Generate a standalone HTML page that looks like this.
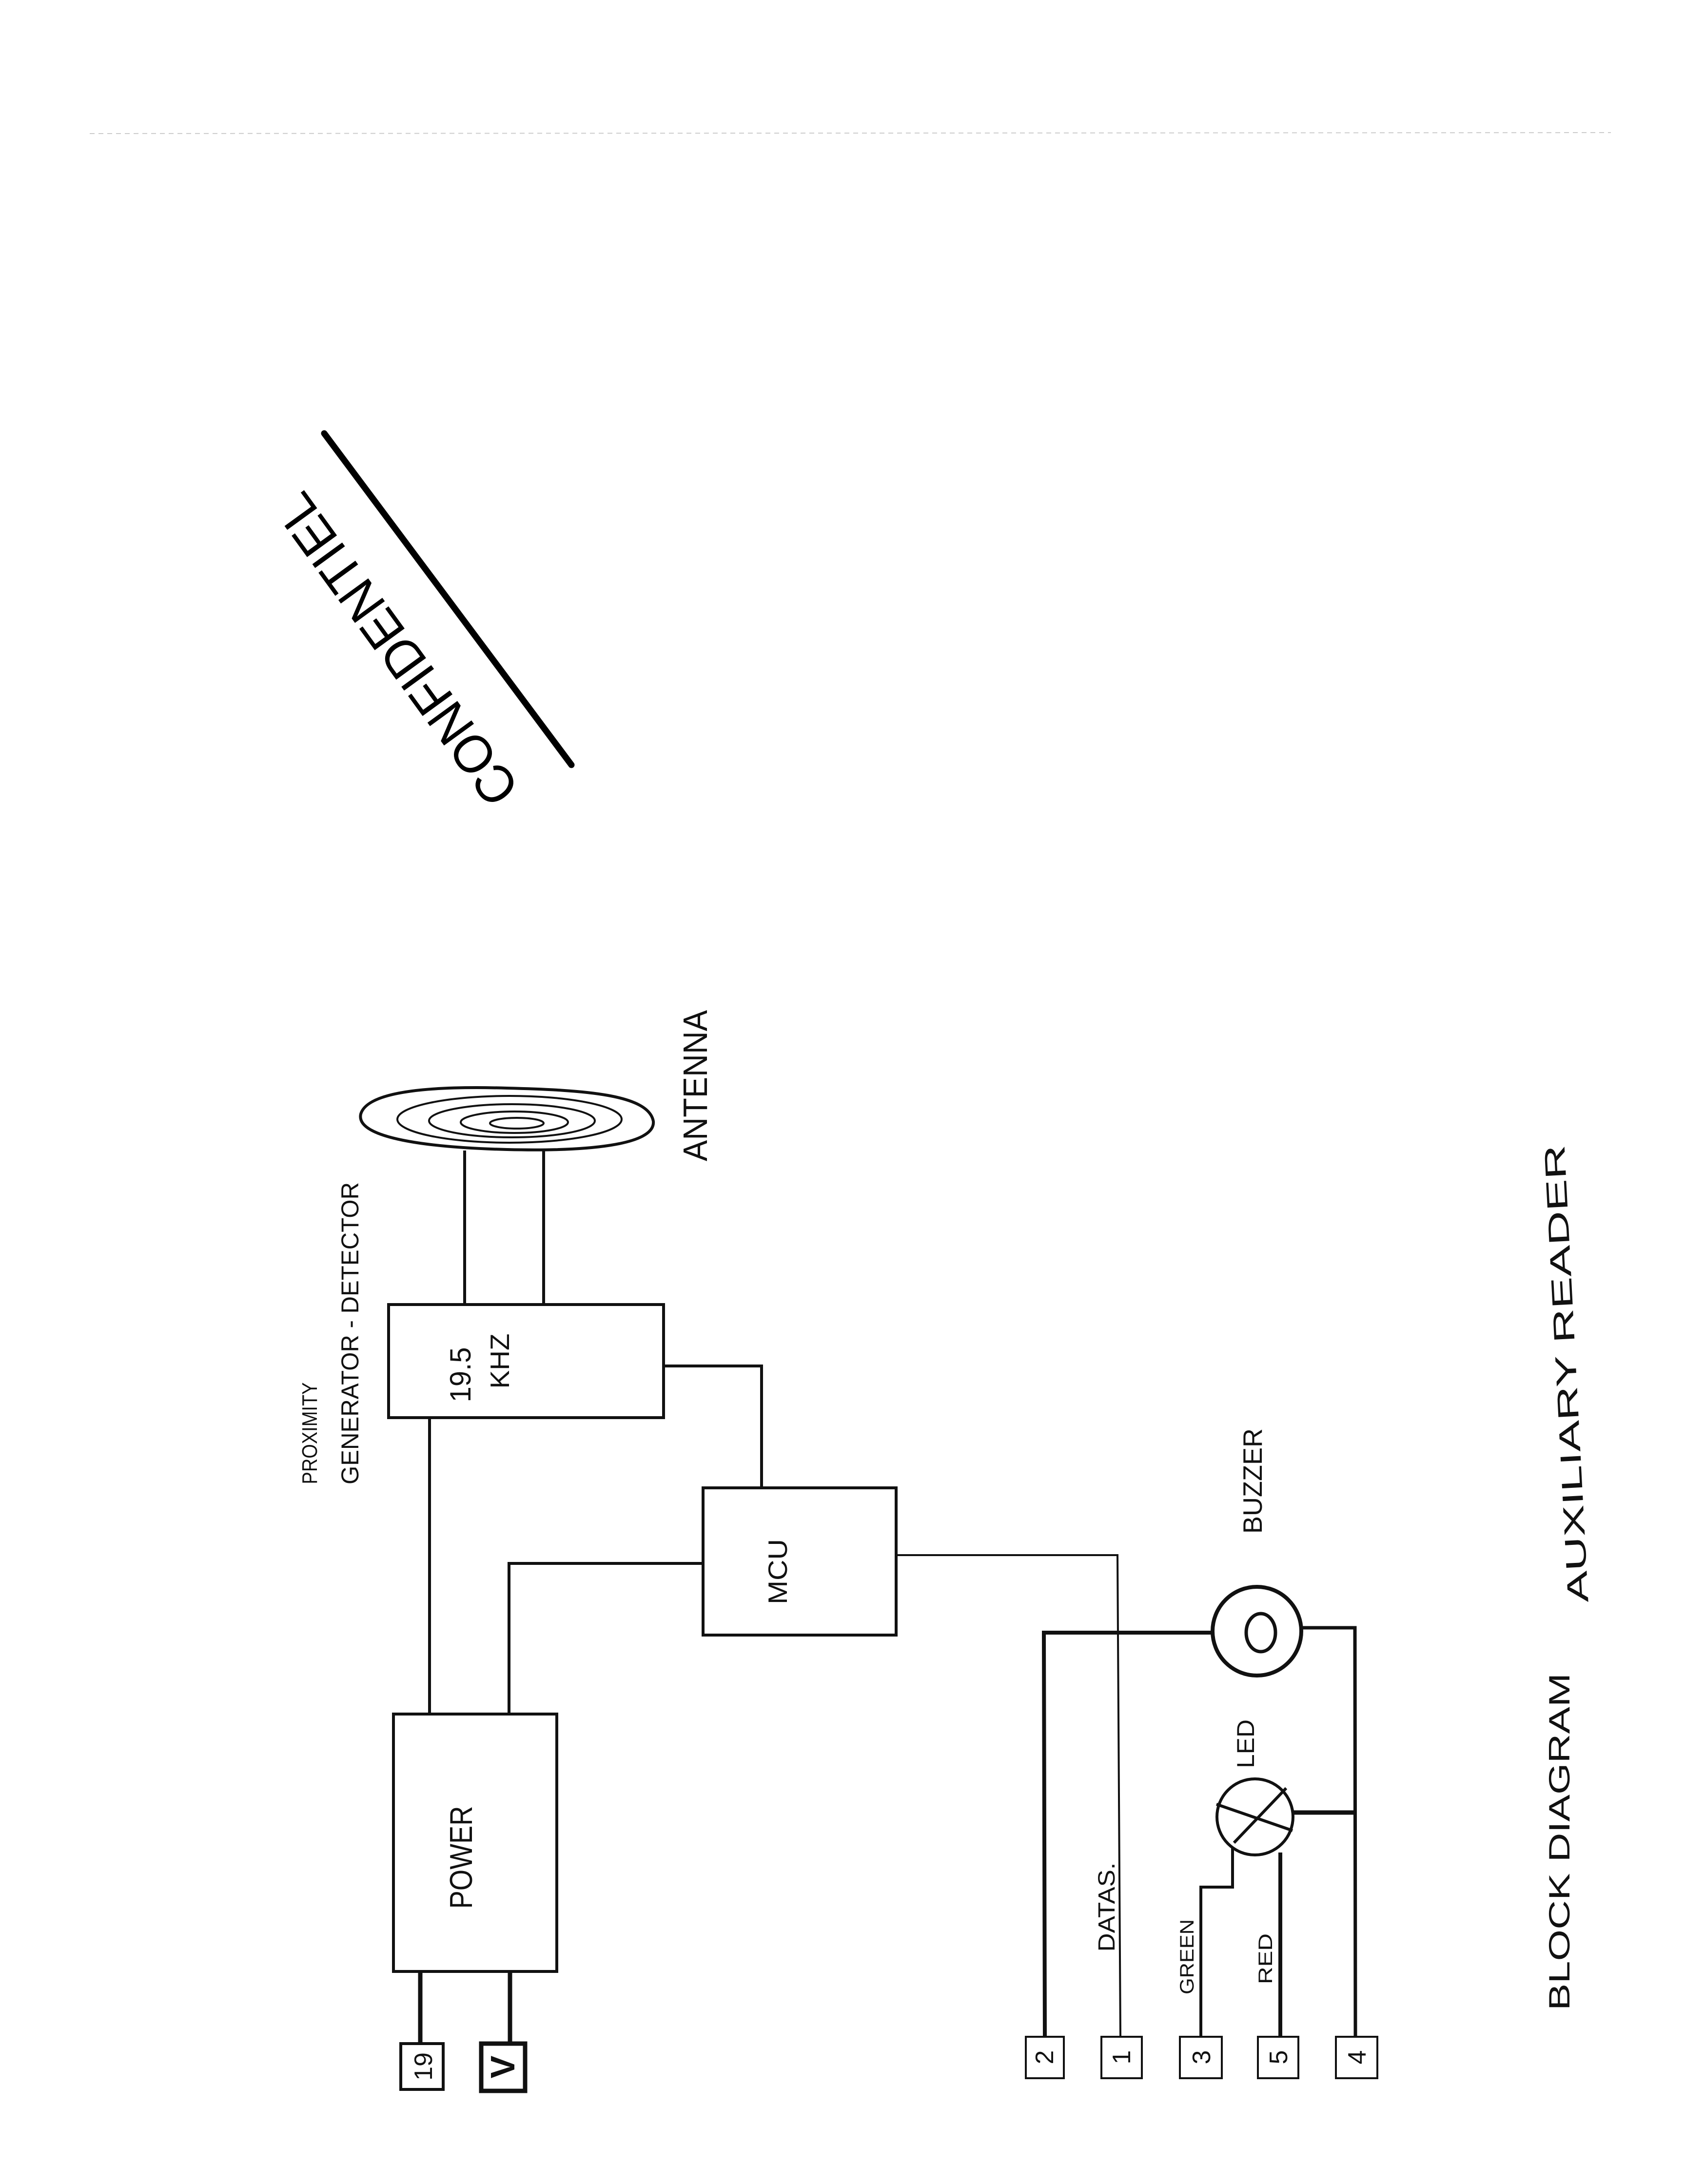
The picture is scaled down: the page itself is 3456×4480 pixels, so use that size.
<!DOCTYPE html>
<html><head><meta charset="utf-8"><style>
html,body{margin:0;padding:0;background:#fff;}
svg{display:block;}
text{font-family:"Liberation Sans",sans-serif;fill:#111;}
</style></head><body>
<svg width="3456" height="4480" viewBox="0 0 3456 4480" xmlns="http://www.w3.org/2000/svg">
<rect width="3456" height="4480" fill="#fff"/>
<line x1="184" y1="274" x2="3304" y2="272" stroke="#ccc" stroke-width="2" stroke-dasharray="10 8"/>
<!-- CONFIDENTIEL -->
<line x1="665" y1="889" x2="1172" y2="1569" stroke="#000" stroke-width="13" stroke-linecap="round"/>
<text transform="translate(845,1310) rotate(234)" font-size="110" text-anchor="middle" textLength="760" lengthAdjust="spacingAndGlyphs" style="fill:#000">CONFIDENTIEL</text>
<g stroke="#111" stroke-width="6" fill="none">
<!-- antenna -->
<path d="M740,2285 C755,2235 900,2228 1040,2232 C1200,2236 1330,2245 1340,2300 C1345,2350 1200,2362 1040,2358 C880,2354 728,2335 740,2285 Z"/>
<ellipse cx="1045" cy="2296" rx="230" ry="48" stroke-width="4"/>
<ellipse cx="1050" cy="2299" rx="170" ry="34" stroke-width="4"/>
<ellipse cx="1055" cy="2302" rx="110" ry="22" stroke-width="4"/>
<ellipse cx="1060" cy="2304" rx="55" ry="11" stroke-width="4"/>
<line x1="953" y1="2360" x2="953" y2="2676"/>
<line x1="1115" y1="2358" x2="1115" y2="2676"/>
<!-- boxes -->
<rect x="797" y="2676" width="564" height="232"/>
<rect x="1442" y="3052" width="396" height="302"/>
<rect x="807" y="3516" width="335" height="528"/>
<!-- connectors -->
<polyline points="1361,2802 1562,2802 1562,3052"/>
<line x1="881" y1="2908" x2="881" y2="3516"/>
<polyline points="1442,3207 1044,3207 1044,3516"/>
<line x1="862" y1="4044" x2="862" y2="4192" stroke-width="9"/>
<line x1="1046" y1="4044" x2="1046" y2="4192" stroke-width="9"/>
<polyline points="1838,3190 2292,3190 2298,4178" stroke-width="4"/>
<polyline points="2487,3349 2141,3349 2143,4178" stroke-width="8"/>
<circle cx="2578" cy="3346" r="91" stroke-width="8"/>
<ellipse cx="2586" cy="3349" rx="30" ry="39" stroke-width="7"/>
<polyline points="2669,3339 2779,3339 2780,4178" stroke-width="7"/>
<circle cx="2574" cy="3727" r="78"/>
<line x1="2638" y1="3668" x2="2531" y2="3780"/>
<line x1="2495" y1="3701" x2="2651" y2="3755"/>
<line x1="2651" y1="3718" x2="2779" y2="3718" stroke-width="9"/>
<polyline points="2528,3790 2528,3871 2463,3871 2463,4178"/>
<line x1="2626" y1="3800" x2="2626" y2="4178" stroke-width="8"/>
<!-- terminals -->
<rect x="822" y="4192" width="87" height="94"/>
<rect x="987" y="4192" width="90" height="97" stroke-width="9"/>
<rect x="2104" y="4178" width="78" height="85" stroke-width="4"/>
<rect x="2259" y="4178" width="83" height="85" stroke-width="4"/>
<rect x="2420" y="4178" width="86" height="85" stroke-width="4"/>
<rect x="2580" y="4178" width="83" height="85" stroke-width="4"/>
<rect x="2740" y="4178" width="85" height="85" stroke-width="4"/>
</g>
<g font-size="50">
<text transform="translate(650,2940) rotate(-90)" text-anchor="middle" font-size="44" textLength="209" lengthAdjust="spacingAndGlyphs">PROXIMITY</text>
<text transform="translate(735,2735) rotate(-90)" text-anchor="middle" textLength="620" lengthAdjust="spacingAndGlyphs">GENERATOR - DETECTOR</text>
<text transform="translate(1450,2227) rotate(-90)" text-anchor="middle" font-size="70" textLength="310" lengthAdjust="spacingAndGlyphs">ANTENNA</text>
<text transform="translate(965,2820) rotate(-90)" text-anchor="middle" font-size="60" textLength="113" lengthAdjust="spacingAndGlyphs">19.5</text>
<text transform="translate(1044,2792) rotate(-90)" text-anchor="middle" font-size="55" textLength="113" lengthAdjust="spacingAndGlyphs">KHZ</text>
<text transform="translate(1614,3224) rotate(-90)" text-anchor="middle" font-size="55" textLength="134" lengthAdjust="spacingAndGlyphs">MCU</text>
<text transform="translate(968,3810) rotate(-90)" text-anchor="middle" font-size="65" textLength="211" lengthAdjust="spacingAndGlyphs">POWER</text>
<text transform="translate(2286,3912) rotate(-90)" text-anchor="middle" font-size="48" textLength="183" lengthAdjust="spacingAndGlyphs">DATAS.</text>
<text transform="translate(2448,4014) rotate(-90)" text-anchor="middle" font-size="40" textLength="154" lengthAdjust="spacingAndGlyphs">GREEN</text>
<text transform="translate(2609,4018) rotate(-90)" text-anchor="middle" font-size="40" textLength="104" lengthAdjust="spacingAndGlyphs">RED</text>
<text transform="translate(2572,3577) rotate(-90)" text-anchor="middle" font-size="50" textLength="100" lengthAdjust="spacingAndGlyphs">LED</text>
<text transform="translate(2588,3038) rotate(-90)" text-anchor="middle" font-size="55" textLength="216" lengthAdjust="spacingAndGlyphs">BUZZER</text>
<text transform="translate(3219,3778) rotate(-90)" text-anchor="middle" font-size="60" textLength="692" lengthAdjust="spacingAndGlyphs">BLOCK  DIAGRAM</text>
<text transform="translate(3233,2817) rotate(-93)" text-anchor="middle" font-size="60" textLength="940" lengthAdjust="spacingAndGlyphs">AUXILIARY  READER</text>
<!-- terminal labels -->
<text transform="translate(886,4239) rotate(-90)" text-anchor="middle" font-size="52">19</text>
<text transform="translate(1055,4240) rotate(-90)" text-anchor="middle" font-size="70" font-weight="bold">V</text>
<text transform="translate(2160,4220) rotate(-90)" text-anchor="middle" font-size="52">2</text>
<text transform="translate(2318,4220) rotate(-90)" text-anchor="middle" font-size="52">1</text>
<text transform="translate(2482,4220) rotate(-90)" text-anchor="middle" font-size="52">3</text>
<text transform="translate(2640,4220) rotate(-90)" text-anchor="middle" font-size="52">5</text>
<text transform="translate(2801,4220) rotate(-90)" text-anchor="middle" font-size="52">4</text>
</g>
</svg>
</body></html>
